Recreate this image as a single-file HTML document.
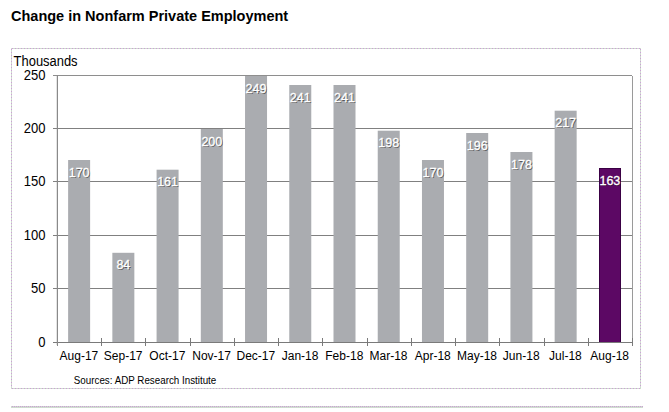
<!DOCTYPE html>
<html><head><meta charset="utf-8"><style>
html,body{margin:0;padding:0;background:#fff;}
body{width:669px;height:412px;overflow:hidden;}
svg{display:block;font-family:"Liberation Sans",sans-serif;}
.dl{font-size:12.5px;fill:#fff;stroke:#fff;stroke-width:0.3px;text-anchor:middle;}
.dls{font-size:12.5px;fill:#202020;fill-opacity:0.6;text-anchor:middle;}
.yl{font-size:14px;fill:#000;text-anchor:end;}
.xl{font-size:12px;fill:#000;text-anchor:middle;}
</style></head><body>
<svg width="669" height="412" viewBox="0 0 669 412">
<text x="11" y="21" font-size="14.5" font-weight="bold" fill="#000">Change in Nonfarm Private Employment</text>
<g shape-rendering="crispEdges" fill="#cfdccf">
<rect x="11" y="48" width="630" height="1"/>
<rect x="11" y="388" width="630" height="1"/>
<rect x="11" y="48" width="1" height="341"/>
<rect x="640" y="48" width="1" height="341"/>
<rect x="11" y="406" width="632" height="2"/>
</g>
<g shape-rendering="crispEdges" stroke="#cc9fd6" stroke-width="1" fill="none">
<line x1="11" y1="48.5" x2="641" y2="48.5" stroke-dasharray="1 2" stroke-dashoffset="2"/>
<line x1="11" y1="388.5" x2="641" y2="388.5" stroke-dasharray="1 2" stroke-dashoffset="2"/>
<line x1="11.5" y1="49" x2="11.5" y2="388" stroke-dasharray="1 2" stroke-dashoffset="0"/>
<line x1="640.5" y1="49" x2="640.5" y2="388" stroke-dasharray="1 2" stroke-dashoffset="0"/>
<line x1="11" y1="406.5" x2="643" y2="406.5" stroke-dasharray="1 1" stroke-dashoffset="1"/>
</g>
<g shape-rendering="crispEdges" fill="#808080">
<rect x="56" y="76" width="1" height="269" fill="#e4e4e4"/><rect x="53" y="128" width="579" height="1"/><rect x="53" y="181" width="579" height="1"/><rect x="53" y="235" width="579" height="1"/><rect x="53" y="288" width="579" height="1"/><rect x="53" y="75" width="579" height="1" fill="#8e8e8e"/><rect x="632" y="76" width="1" height="266" fill="#9a9a9a"/>
</g>
<g>
<rect x="68.12" y="160.00" width="22" height="182.50" fill="#aaacb0"/><rect x="112.35" y="252.80" width="22" height="89.70" fill="#aaacb0"/><rect x="156.58" y="169.70" width="22" height="172.80" fill="#aaacb0"/><rect x="200.81" y="129.00" width="22" height="213.50" fill="#aaacb0"/><rect x="245.04" y="76.00" width="22" height="266.50" fill="#aaacb0"/><rect x="289.27" y="85.00" width="22" height="257.50" fill="#aaacb0"/><rect x="333.50" y="85.00" width="22" height="257.50" fill="#aaacb0"/><rect x="377.73" y="130.70" width="22" height="211.80" fill="#aaacb0"/><rect x="421.96" y="160.00" width="22" height="182.50" fill="#aaacb0"/><rect x="466.19" y="133.00" width="22" height="209.50" fill="#aaacb0"/><rect x="510.42" y="152.00" width="22" height="190.50" fill="#aaacb0"/><rect x="554.65" y="110.70" width="22" height="231.80" fill="#aaacb0"/><rect x="599.5" y="168.5" width="21" height="174" fill="#5c0864" stroke="#3a0044" stroke-width="1" shape-rendering="crispEdges"/>
</g>
<g shape-rendering="crispEdges" fill="#7a7a7a">
<rect x="53" y="342" width="579" height="1"/>
<rect x="57" y="75" width="1" height="271" fill="#8a8a8a"/><rect x="101" y="338" width="1" height="8"/><rect x="145" y="338" width="1" height="8"/><rect x="190" y="338" width="1" height="8"/><rect x="234" y="338" width="1" height="8"/><rect x="278" y="338" width="1" height="8"/><rect x="322" y="338" width="1" height="8"/><rect x="367" y="338" width="1" height="8"/><rect x="411" y="338" width="1" height="8"/><rect x="455" y="338" width="1" height="8"/><rect x="499" y="338" width="1" height="8"/><rect x="544" y="338" width="1" height="8"/><rect x="588" y="338" width="1" height="8"/><rect x="632" y="338" width="1" height="8"/>
</g>
<text x="13.6" y="66" font-size="14" fill="#000" textLength="64" lengthAdjust="spacingAndGlyphs">Thousands</text>
<text x="80.12" y="178.00" class="dls">170</text><text x="79.12" y="177.00" class="dl">170</text><text x="124.35" y="270.00" class="dls">84</text><text x="123.35" y="269.00" class="dl">84</text><text x="168.58" y="187.00" class="dls">161</text><text x="167.58" y="186.00" class="dl">161</text><text x="212.81" y="147.00" class="dls">200</text><text x="211.81" y="146.00" class="dl">200</text><text x="257.04" y="94.00" class="dls">249</text><text x="256.04" y="93.00" class="dl">249</text><text x="301.27" y="103.00" class="dls">241</text><text x="300.27" y="102.00" class="dl">241</text><text x="345.50" y="103.00" class="dls">241</text><text x="344.50" y="102.00" class="dl">241</text><text x="389.73" y="148.00" class="dls">198</text><text x="388.73" y="147.00" class="dl">198</text><text x="433.96" y="178.00" class="dls">170</text><text x="432.96" y="177.00" class="dl">170</text><text x="478.19" y="151.00" class="dls">196</text><text x="477.19" y="150.00" class="dl">196</text><text x="522.42" y="170.00" class="dls">178</text><text x="521.42" y="169.00" class="dl">178</text><text x="566.65" y="128.00" class="dls">217</text><text x="565.65" y="127.00" class="dl">217</text><text x="610.88" y="186.00" class="dls">163</text><text x="609.88" y="185.00" class="dl">163</text>
<text x="45.5" y="80" class="yl" textLength="21.75" lengthAdjust="spacingAndGlyphs">250</text><text x="45.5" y="133" class="yl" textLength="21.75" lengthAdjust="spacingAndGlyphs">200</text><text x="45.5" y="186" class="yl" textLength="21.75" lengthAdjust="spacingAndGlyphs">150</text><text x="45.5" y="240" class="yl" textLength="21.75" lengthAdjust="spacingAndGlyphs">100</text><text x="45.5" y="293" class="yl" textLength="14.5" lengthAdjust="spacingAndGlyphs">50</text><text x="45.5" y="347" class="yl" textLength="7.25" lengthAdjust="spacingAndGlyphs">0</text>
<text x="78.92" y="360" class="xl">Aug-17</text><text x="123.15" y="360" class="xl">Sep-17</text><text x="167.38" y="360" class="xl">Oct-17</text><text x="211.61" y="360" class="xl">Nov-17</text><text x="255.84" y="360" class="xl">Dec-17</text><text x="300.07" y="360" class="xl">Jan-18</text><text x="344.30" y="360" class="xl">Feb-18</text><text x="388.53" y="360" class="xl">Mar-18</text><text x="432.76" y="360" class="xl">Apr-18</text><text x="476.99" y="360" class="xl">May-18</text><text x="521.22" y="360" class="xl">Jun-18</text><text x="565.45" y="360" class="xl">Jul-18</text><text x="609.68" y="360" class="xl">Aug-18</text>
<text x="73.8" y="384" font-size="11" fill="#000" textLength="142.5" lengthAdjust="spacingAndGlyphs">Sources: ADP Research Institute</text>
</svg>
</body></html>
